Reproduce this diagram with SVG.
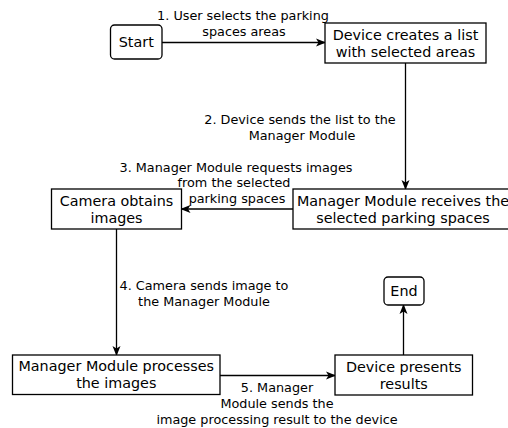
<svg xmlns="http://www.w3.org/2000/svg" width="508" height="428" viewBox="0 0 508 428">
<defs>
<style>
.box{fill:#fff;stroke:#000;stroke-width:1.3}
.nt{font-family:"DejaVu Sans",sans-serif;font-size:14.35px;fill:#000;text-anchor:middle}
.lt{font-family:"DejaVu Sans",sans-serif;font-size:12.8px;fill:#000;text-anchor:middle}
.edge{fill:none;stroke:#000;stroke-width:1.3}
</style>
<marker id="arr" viewBox="0 0 10 10" refX="9" refY="5" markerWidth="10" markerHeight="10" markerUnits="userSpaceOnUse" orient="auto">
<path d="M0,1 L10,5 L0,9 L2.5,5 Z" fill="#000"/>
</marker>
</defs>
<rect width="508" height="428" fill="#fff"/>
<g id="edges">
<line class="edge" x1="162" y1="42.5" x2="325" y2="42.5" marker-end="url(#arr)"/>
<line class="edge" x1="405.5" y1="63" x2="405.5" y2="189" marker-end="url(#arr)"/>
<line class="edge" x1="293" y1="209" x2="181.5" y2="209" marker-end="url(#arr)"/>
<line class="edge" x1="116.5" y1="229" x2="116.5" y2="355" marker-end="url(#arr)"/>
<line class="edge" x1="220" y1="375.5" x2="335" y2="375.5" marker-end="url(#arr)"/>
<line class="edge" x1="403.5" y1="355" x2="403.5" y2="305" marker-end="url(#arr)"/>
<text class="lt" x="243" y="20">1. User selects the parking</text>
<text class="lt" x="244" y="35.5">spaces areas</text>
<text class="lt" x="300" y="123.5">2. Device sends the list to the</text>
<text class="lt" x="302" y="139.5">Manager Module</text>
<text class="lt" x="236" y="171.5">3. Manager Module requests images</text>
<text class="lt" x="234" y="187">from the selected</text>
<text class="lt" x="237" y="202.5">parking spaces</text>
<text class="lt" x="204" y="289.5">4. Camera sends image to</text>
<text class="lt" x="204" y="306">the Manager Module</text>
<text class="lt" x="277" y="391.5">5. Manager</text>
<text class="lt" x="277" y="407.5">Module sends the</text>
<text class="lt" x="277" y="423.5">image processing result to the device</text>
</g>
<g id="start">
<rect class="box" x="110.5" y="25" width="51.5" height="34" rx="4"/>
<text class="nt" x="136.25" y="47.2">Start</text>
</g>
<g id="device-creates">
<rect class="box" x="325" y="23" width="161" height="40"/>
<text class="nt" x="405.5" y="39.7">Device creates a list</text>
<text class="nt" x="405.5" y="56.7">with selected areas</text>
</g>
<g id="manager-receives">
<rect class="box" x="293" y="189" width="220" height="40"/>
<text class="nt" x="403" y="205.7">Manager Module receives the</text>
<text class="nt" x="403" y="222.7">selected parking spaces</text>
</g>
<g id="camera">
<rect class="box" x="51.5" y="189" width="130" height="40"/>
<text class="nt" x="116.5" y="205.7">Camera obtains</text>
<text class="nt" x="116.5" y="222.7">images</text>
</g>
<g id="manager-processes">
<rect class="box" x="12.5" y="355" width="207.5" height="39.5"/>
<text class="nt" x="116.25" y="371.2">Manager Module processes</text>
<text class="nt" x="116.25" y="388.2">the images</text>
</g>
<g id="device-presents">
<rect class="box" x="335" y="355" width="137.5" height="40"/>
<text class="nt" x="403.75" y="371.7">Device presents</text>
<text class="nt" x="403.75" y="388.7">results</text>
</g>
<g id="end">
<rect class="box" x="384" y="277" width="40" height="28" rx="4"/>
<text class="nt" x="404" y="296.2">End</text>
</g>
</svg>
